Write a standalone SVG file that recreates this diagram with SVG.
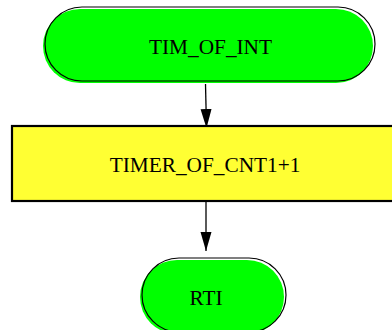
<svg xmlns="http://www.w3.org/2000/svg" width="392" height="330" viewBox="0 0 392 330">
<style>
.term-fill{fill:#00ff00;stroke:none}
.term-line{fill:none;stroke:#000;stroke-width:1.2}
.proc{fill:#ffff33;stroke:#000;stroke-width:2.2}
.lbl{font-family:"Liberation Serif","Times New Roman",serif;font-size:21.3px;fill:#000;text-anchor:middle}
.conn{stroke:#000;stroke-width:1.3;fill:none}
</style>
<defs>
<marker id="arr" markerWidth="19" markerHeight="12" refX="19" refY="6" orient="auto" markerUnits="userSpaceOnUse">
<path d="M0,0.5 L19,6 L0,11.5 Z" fill="#000"/>
</marker>
</defs>
<rect width="392" height="330" fill="#fff"/>
<g id="connectors">
<path class="conn" d="M205.5,84 L206.5,128" marker-end="url(#arr)"/>
<path class="conn" d="M206,202 L206,251" marker-end="url(#arr)"/>
</g>
<g id="n1">
<rect class="term-fill" x="43" y="9" width="330" height="74" rx="37" ry="37"/>
<rect class="term-line" x="45" y="7" width="330" height="74" rx="37" ry="37"/>
<text class="lbl" x="210.5" y="53.5">TIM_OF_INT</text>
</g>
<g id="n2">
<rect class="proc" x="12" y="126" width="392" height="75"/>
<text class="lbl" x="205" y="172">TIMER_OF_CNT1+1</text>
</g>
<g id="n3">
<rect class="term-fill" x="140" y="260" width="144" height="74" rx="37" ry="37"/>
<rect class="term-line" x="142" y="258" width="144" height="74" rx="37" ry="37"/>
<text class="lbl" x="206" y="305">RTI</text>
</g>
</svg>
